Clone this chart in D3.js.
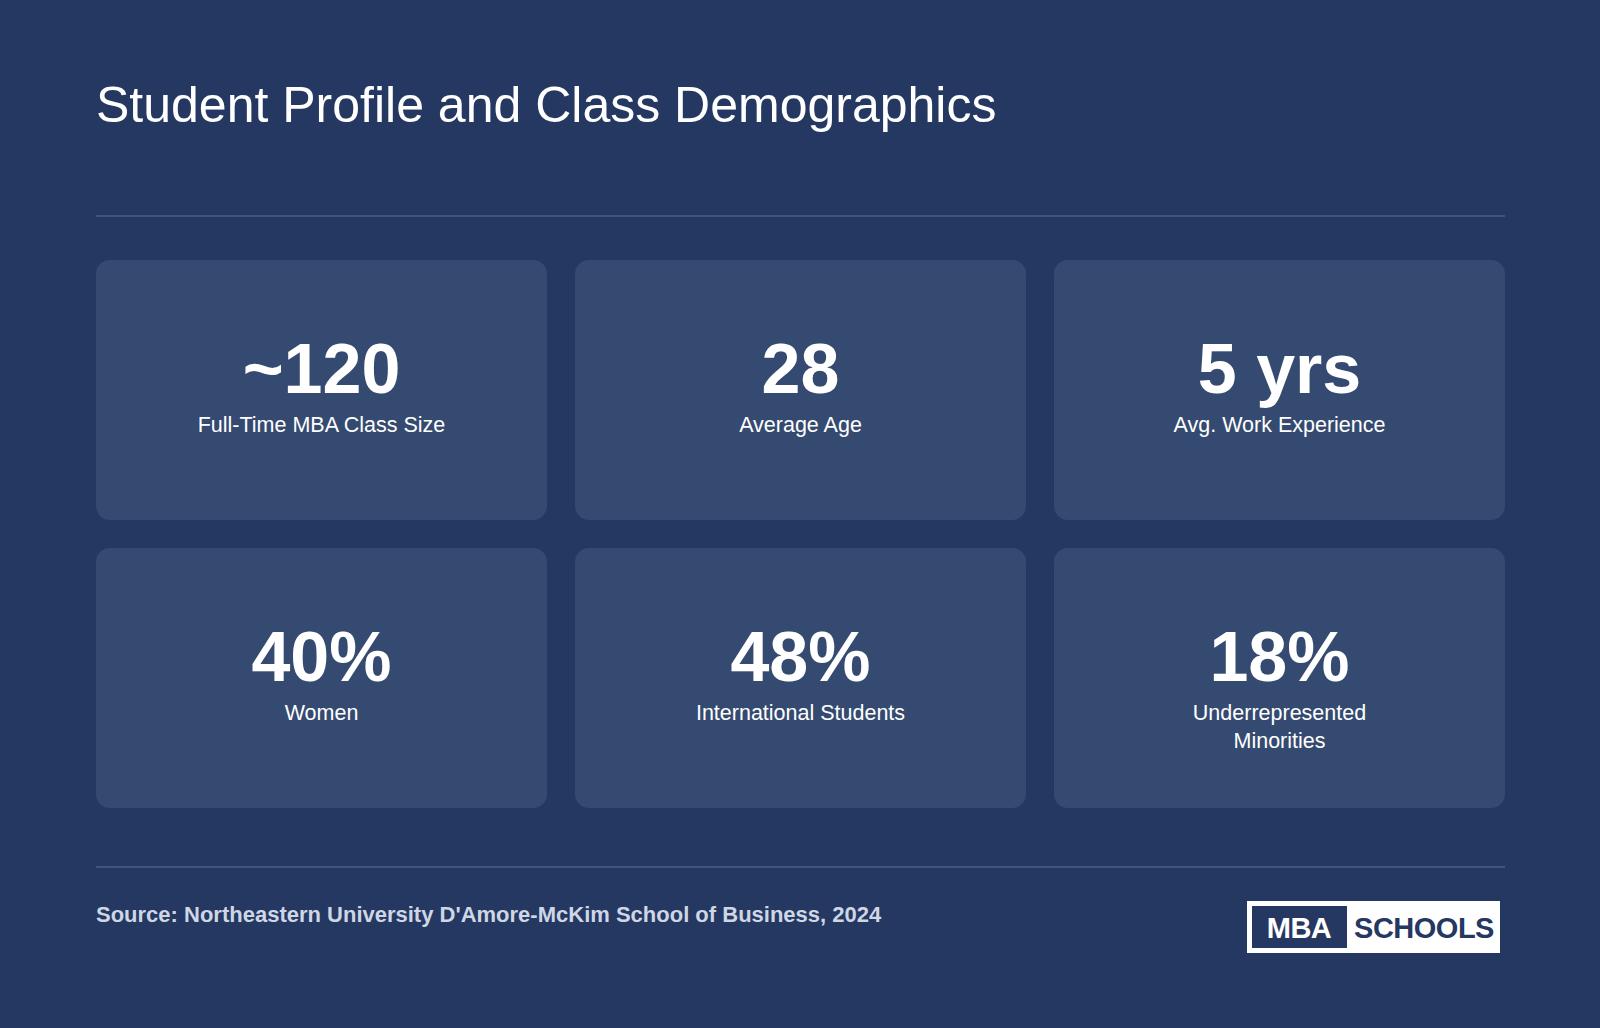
<!DOCTYPE html>
<html><head><meta charset="utf-8">
<script src="https://cdn.jsdelivr.net/npm/d3@7"></script>
<style>body{margin:0;background:#243862}</style>
</head><body>
<svg id="chart" width="1600" height="1028"></svg>
<script>
const values = ["~120", "28", "5 yrs", "40%", "48%", "18%"];
const labels = [["Full-Time MBA Class Size"], ["Average Age"], ["Avg. Work Experience"],
  ["Women"], ["International Students"], ["Underrepresented", "Minorities"]];
const cols = [0, 1, 2, 0, 1, 2];
const rows = [0, 0, 0, 1, 1, 1];

const font = "'Liberation Sans', Arial, Helvetica, sans-serif";
const svg = d3.select("#chart").style("font-family", font);
svg.append("rect").attr("width", 1600).attr("height", 1028).attr("fill", "#243862");

svg.append("text").attr("x", 96).attr("y", 122).attr("fill", "#fff")
  .attr("font-size", 50).text("Student Profile and Class Demographics");

svg.selectAll("line.rule").data([216, 867]).join("line")
  .attr("x1", 96).attr("x2", 1505).attr("y1", d => d).attr("y2", d => d)
  .attr("stroke", "#4a5f88").attr("stroke-width", 1.5);

const x = d3.scaleBand().domain([0, 1, 2]).range([96, 1505]).paddingInner(28 / 479).paddingOuter(0);
const y = d3.scaleBand().domain([0, 1]).range([260, 808]).paddingInner(28 / 288).paddingOuter(0);

const cards = svg.selectAll("g.card").data(values).join("g")
  .attr("transform", (d, i) => `translate(${x(cols[i])},${y(rows[i])})`);
cards.append("rect").attr("width", x.bandwidth()).attr("height", y.bandwidth()).attr("rx", 14)
  .attr("fill", "#354a70");
cards.append("text").attr("x", x.bandwidth() / 2).attr("y", 133).attr("text-anchor", "middle")
  .attr("fill", "#fff").attr("font-size", 70).attr("font-weight", "bold").text(d => d);
cards.each(function (d, i) {
  d3.select(this).selectAll("text.lab").data(labels[i]).join("text")
    .attr("x", x.bandwidth() / 2).attr("y", (t, j) => 172 + j * 28).attr("text-anchor", "middle")
    .attr("fill", "#fff").attr("font-size", 21.5).text(t => t);
});

svg.append("text").attr("x", 96).attr("y", 922).attr("fill", "#cfd6e4")
  .attr("font-size", 22).attr("font-weight", "bold")
  .text("Source: Northeastern University D'Amore-McKim School of Business, 2024");

const logo = svg.append("g").attr("transform", "translate(1247,901)");
logo.append("rect").attr("width", 253).attr("height", 52).attr("fill", "#fff");
logo.append("rect").attr("x", 5).attr("y", 5).attr("width", 95).attr("height", 42).attr("fill", "#243862");
logo.append("text").attr("x", 52).attr("y", 37).attr("text-anchor", "middle").attr("fill", "#fff")
  .attr("font-size", 29).attr("font-weight", "bold").attr("letter-spacing", -0.5).text("MBA");
logo.append("text").attr("x", 177).attr("y", 37).attr("text-anchor", "middle").attr("fill", "#243862")
  .attr("font-size", 29).attr("font-weight", "bold").attr("letter-spacing", -0.5).text("SCHOOLS");
</script>
</body></html>
